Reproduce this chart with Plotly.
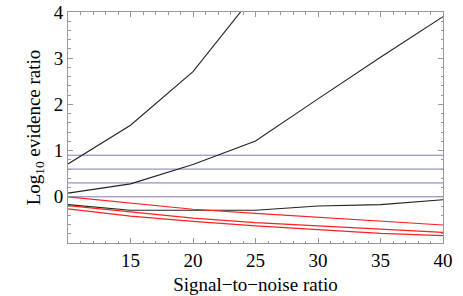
import plotly.graph_objects as go

snr = [10, 15, 20, 25, 30, 35, 40]

black_a = [0.71, 1.55, 2.71, 4.35, 6.0, 7.8, 9.8]
black_b = [0.08, 0.28, 0.70, 1.21, 2.12, 3.02, 3.90]
black_c = [-0.17, -0.29, -0.29, -0.29, -0.20, -0.17, -0.065]

red_a = [0.0, -0.13, -0.27, -0.36, -0.44, -0.52, -0.61]
red_b = [-0.19, -0.33, -0.46, -0.56, -0.63, -0.70, -0.77]
red_c = [-0.26, -0.42, -0.53, -0.63, -0.71, -0.79, -0.84]

ref_levels = [0.0, 0.3, 0.6, 0.9]

x_ticks = [15, 20, 25, 30, 35, 40]
y_ticks = [0, 1, 2, 3, 4]

fig = go.Figure()

for lv in ref_levels:
    fig.add_trace(go.Scatter(x=[snr[0], snr[-1]], y=[lv, lv], mode="lines",
                             line=dict(color="#7c7cb8", width=1), hoverinfo="skip"))

for ys in (black_a, black_b, black_c):
    fig.add_trace(go.Scatter(x=snr, y=ys, mode="lines",
                             line=dict(color="#222222", width=1.1)))

for ys in (red_a, red_b, red_c):
    fig.add_trace(go.Scatter(x=snr, y=ys, mode="lines",
                             line=dict(color="#ff2020", width=1.2)))

FAM = "Times New Roman"
FS = 19

fig.update_layout(
    width=463, height=296,
    margin=dict(l=68, r=20, t=12, b=53),
    paper_bgcolor="white", plot_bgcolor="white",
    showlegend=False,
    font=dict(family=FAM, size=FS, color="black"),
)

fig.update_xaxes(
    range=[10, 40], tickvals=x_ticks, ticktext=[str(v) for v in x_ticks],
    showgrid=False, zeroline=False, automargin=False,
    showline=True, linecolor="#999999", linewidth=1, mirror="allticks",
    ticks="inside", ticklen=5, tickcolor="#999999", tickwidth=1,
    minor=dict(dtick=1, ticks="inside", ticklen=2.5, tickcolor="#999999", showgrid=False),
    ticklabelstandoff=0,
    title=dict(text="Signal\u2212to\u2212noise ratio", font=dict(family=FAM, size=FS, color="black"), standoff=7),
    tickfont=dict(family=FAM, size=FS, color="black"),
)
fig.update_yaxes(
    range=[-1, 4], tickvals=y_ticks, ticktext=[str(v) for v in y_ticks],
    showgrid=False, zeroline=False, automargin=False,
    showline=True, linecolor="#999999", linewidth=1, mirror="allticks",
    ticks="inside", ticklen=5, tickcolor="#999999", tickwidth=1,
    minor=dict(dtick=0.2, ticks="inside", ticklen=2.5, tickcolor="#999999", showgrid=False),
    ticklabelstandoff=0,
    title=dict(text="Log<sub>10</sub> evidence ratio", font=dict(family=FAM, size=FS, color="black"), standoff=8),
    tickfont=dict(family=FAM, size=FS, color="black"),
)

fig.write_html("out.html", config={"displayModeBar": False},
               post_script="document.body.style.margin='0';")
